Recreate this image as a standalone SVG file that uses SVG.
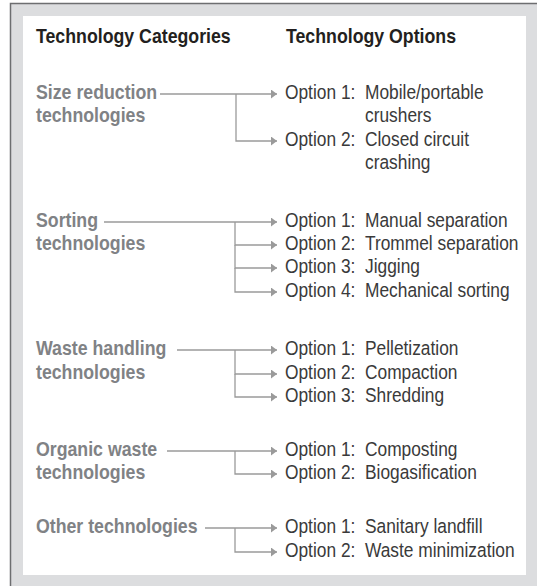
<svg xmlns="http://www.w3.org/2000/svg" width="537" height="586" viewBox="0 0 537 586">
<style>
text{font-family:"Liberation Sans",Arial,sans-serif;font-size:19.5px}
.hdr{font-weight:bold;fill:#231f20}
.cat{font-weight:bold;fill:#808285}
.opt{fill:#3a3a3a}
.ln{fill:none;stroke:#9a9a9a;stroke-width:1.3}
</style>
<defs>
<marker id="ah" markerWidth="7" markerHeight="10" refX="6" refY="4.5" orient="auto" markerUnits="userSpaceOnUse">
<path d="M0,0 L6,4.5 L0,9 Z" fill="#9a9a9a"/>
</marker>
</defs>
<rect x="10" y="3" width="527" height="583" fill="#dcdddf"/>
<path d="M10.5,586 V3.5 H537" fill="none" stroke="#6d6e70" stroke-width="1.5"/>
<rect x="23" y="16" width="503" height="559" fill="#ffffff"/>

<g id="headers" transform="scale(0.91 1)">
<text class="hdr" x="39.56" y="43">Technology Categories</text>
<text class="hdr" x="314.29" y="43">Technology Options</text>
</g>

<g id="cat1" transform="scale(0.91 1)">
<text class="cat" x="39.56" y="99">Size reduction</text>
<text class="cat" x="39.56" y="122">technologies</text>
</g>
<g id="opt1" transform="scale(0.89 1)">
<text class="opt" x="320.22" y="99">Option 1:</text>
<text class="opt" x="410.11" y="99">Mobile/portable</text>
<text class="opt" x="410.11" y="122">crushers</text>
<text class="opt" x="320.22" y="146">Option 2:</text>
<text class="opt" x="410.11" y="146">Closed circuit</text>
<text class="opt" x="410.11" y="169">crashing</text>
</g>

<g id="cat2" transform="scale(0.91 1)">
<text class="cat" x="39.56" y="227">Sorting</text>
<text class="cat" x="39.56" y="250">technologies</text>
</g>
<g id="opt2" transform="scale(0.89 1)">
<text class="opt" x="320.22" y="227">Option 1:</text>
<text class="opt" x="410.11" y="227">Manual separation</text>
<text class="opt" x="320.22" y="250">Option 2:</text>
<text class="opt" x="410.11" y="250">Trommel separation</text>
<text class="opt" x="320.22" y="273">Option 3:</text>
<text class="opt" x="410.11" y="273">Jigging</text>
<text class="opt" x="320.22" y="297">Option 4:</text>
<text class="opt" x="410.11" y="297">Mechanical sorting</text>
</g>

<g id="cat3" transform="scale(0.91 1)">
<text class="cat" x="39.56" y="355">Waste handling</text>
<text class="cat" x="39.56" y="379">technologies</text>
</g>
<g id="opt3" transform="scale(0.89 1)">
<text class="opt" x="320.22" y="355">Option 1:</text>
<text class="opt" x="410.11" y="355">Pelletization</text>
<text class="opt" x="320.22" y="379">Option 2:</text>
<text class="opt" x="410.11" y="379">Compaction</text>
<text class="opt" x="320.22" y="402">Option 3:</text>
<text class="opt" x="410.11" y="402">Shredding</text>
</g>

<g id="cat4" transform="scale(0.91 1)">
<text class="cat" x="39.56" y="456">Organic waste</text>
<text class="cat" x="39.56" y="479">technologies</text>
</g>
<g id="opt4" transform="scale(0.89 1)">
<text class="opt" x="320.22" y="456">Option 1:</text>
<text class="opt" x="410.11" y="456">Composting</text>
<text class="opt" x="320.22" y="479">Option 2:</text>
<text class="opt" x="410.11" y="479">Biogasification</text>
</g>

<g id="cat5" transform="scale(0.91 1)">
<text class="cat" x="39.56" y="533">Other technologies</text>
</g>
<g id="opt5" transform="scale(0.89 1)">
<text class="opt" x="320.22" y="533">Option 1:</text>
<text class="opt" x="410.11" y="533">Sanitary landfill</text>
<text class="opt" x="320.22" y="557">Option 2:</text>
<text class="opt" x="410.11" y="557">Waste minimization</text>
</g>

<g id="connectors">
<path class="ln" d="M160,94 H277" marker-end="url(#ah)"/>
<path class="ln" d="M236,94 V141 H277" marker-end="url(#ah)"/>

<path class="ln" d="M104,222 H277" marker-end="url(#ah)"/>
<path class="ln" d="M235,222 V245 H277" marker-end="url(#ah)"/>
<path class="ln" d="M235,245 V268 H277" marker-end="url(#ah)"/>
<path class="ln" d="M235,268 V292 H277" marker-end="url(#ah)"/>

<path class="ln" d="M177,350 H277" marker-end="url(#ah)"/>
<path class="ln" d="M235,350 V374 H277" marker-end="url(#ah)"/>
<path class="ln" d="M235,374 V397 H277" marker-end="url(#ah)"/>

<path class="ln" d="M167,451 H277" marker-end="url(#ah)"/>
<path class="ln" d="M235,451 V474 H277" marker-end="url(#ah)"/>

<path class="ln" d="M205,528 H277" marker-end="url(#ah)"/>
<path class="ln" d="M235,528 V552 H277" marker-end="url(#ah)"/>
</g>
</svg>
